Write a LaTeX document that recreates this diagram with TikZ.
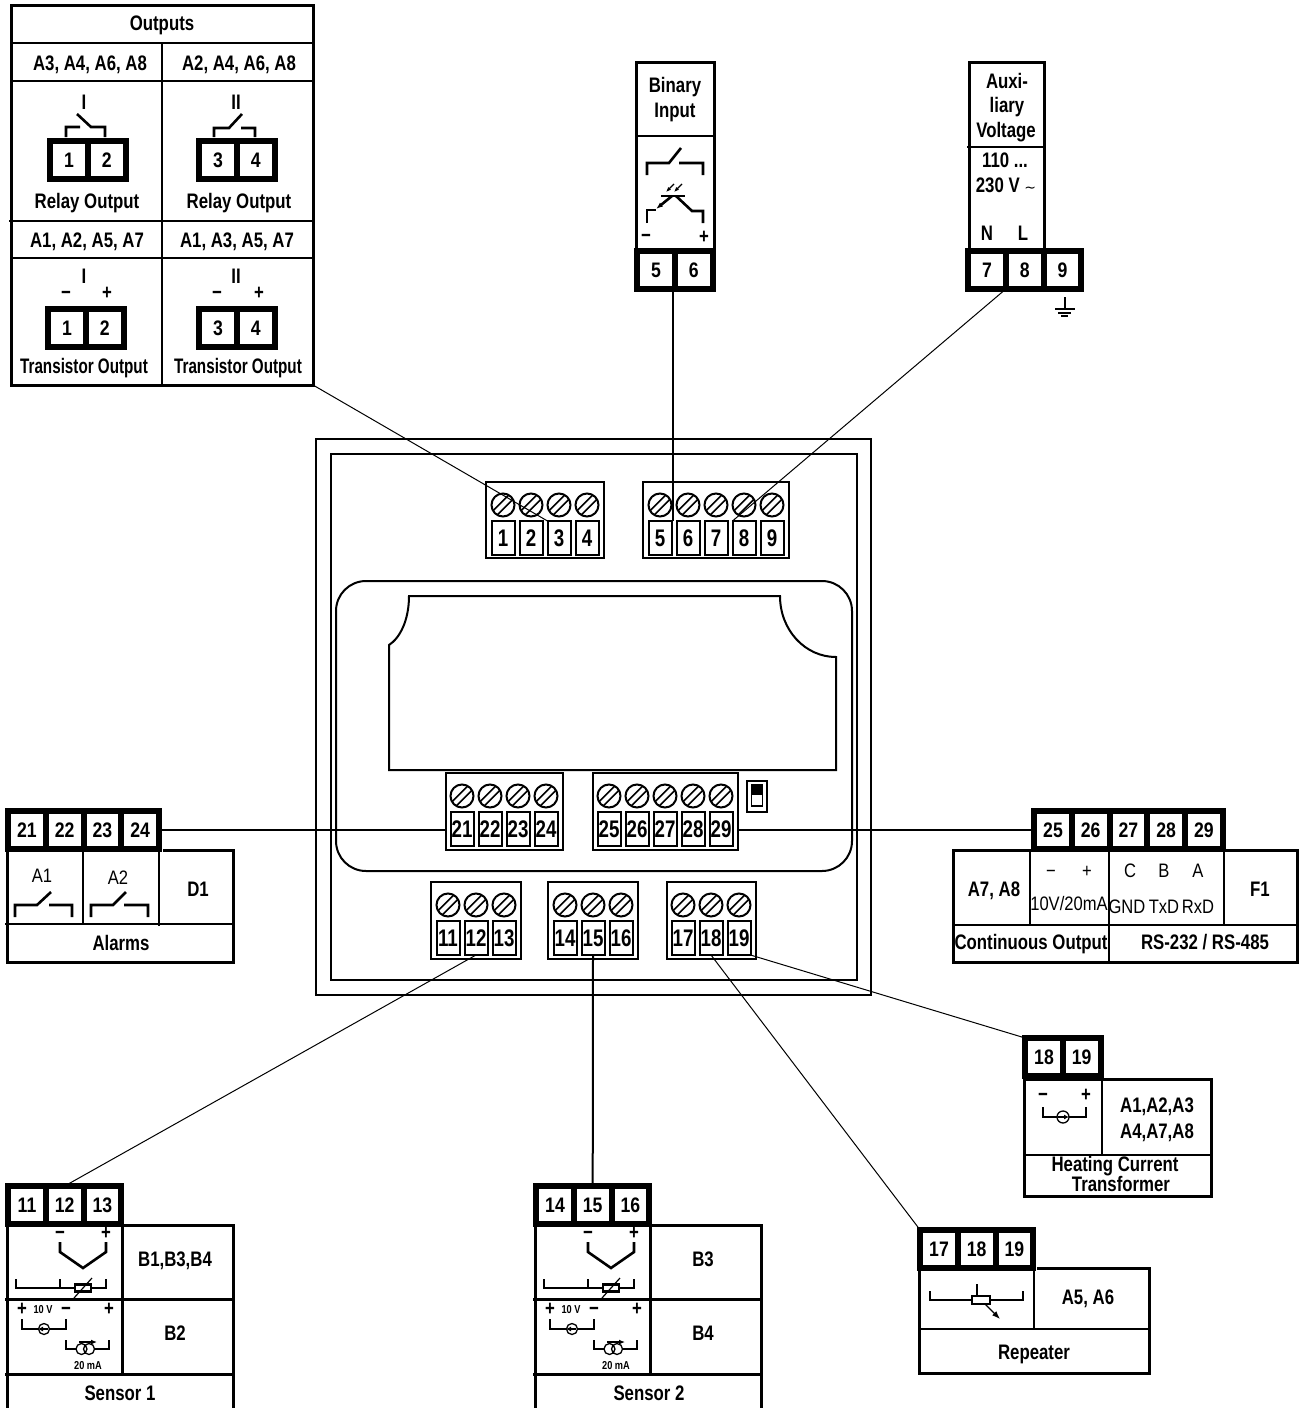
\documentclass[tikz,border=0pt]{standalone}
\usepackage{fontspec}
\usetikzlibrary{arrows.meta}
\setmainfont{Liberation Sans}
\newfontfamily\fnorm[FakeStretch=.8]{Liberation Sans Bold}
\newfontfamily\fnarrow[FakeStretch=.725]{Liberation Sans Bold}
\newfontfamily\flight[FakeStretch=.85]{Liberation Sans}
\newfontfamily\fdev[FakeStretch=.78]{Liberation Sans Bold}
\newfontfamily\fterm[FakeStretch=.84]{Liberation Sans Bold}
\newfontfamily\ftilde{DejaVu Sans}
\newcount\lc
\tikzset{
  x=1pt,y=-1pt,
  lbl/.style={inner sep=0pt,outer sep=0pt,text height=15pt,text depth=0pt,font=\fontsize{21}{24}\fnorm},
  lthin/.style={lbl,font=\fontsize{19.5}{24}\flight},
  lnarrow/.style={lbl,font=\fontsize{21}{24}\fnarrow},
  lsmall/.style={lbl,text height=8pt,font=\fontsize{11.5}{13}\fnorm},
  lsign/.style={lbl,text height=12pt,font=\fontsize{21}{21}\fnorm},
  tcell/.style={draw,line width=6pt,minimum width=37.7pt,minimum height=38pt,inner sep=0pt,outer sep=0pt,fill=white,text height=15pt,text depth=0pt,font=\fontsize{21}{22}\fterm},
  dcell/.style={draw,line width=2pt,minimum width=23pt,minimum height=34pt,inner sep=0pt,outer sep=0pt,fill=white,text height=17pt,text depth=0pt,font=\fontsize{24}{24}\fdev},
  sbox/.style={draw,line width=2pt,inner sep=0pt,outer sep=0pt,fill=white},
  tblbox/.style={draw,line width=3pt,inner sep=0pt,outer sep=0pt},
  tl/.style={line width=3pt},
  il/.style={line width=2.4pt},
  sym/.style={line width=2.6pt,line cap=butt},
  wire/.style={line width=1pt},
  wirethick/.style={line width=2pt},
  screwst/.style={line width=2pt}
}
\newcommand{\lab}[4][lbl]{\global\advance\lc by 1\relax\node[#1] (lab\the\lc) at (#2,#3) {#4};}
\newcommand{\termb}[4]{\foreach \t [count=\i from 0] in {#4} {
  \node[tcell] (#1\t) at ({#2+37.7*\i},#3) {\t};}}
\newcommand{\screw}[2]{\begin{scope}[shift={(#1,#2)}]
  \draw[screwst] (0,0) circle (11.5);
  \draw[line width=1.6pt] (-5.7,9.9) -- (9.9,-5.7) (-9.9,5.7) -- (5.7,-9.9);
\end{scope}}
\newcommand{\devstrip}[7]{
  \node[sbox,minimum width={#4-#2},minimum height={#5-#3}] (#1) at ({(#2+#4)/2},{(#3+#5)/2}) {};
  \foreach \t [count=\i from 0] in {#7} {
    \screw{#6+28*\i}{#3+23}
    \node[dcell] (dev\t) at ({#6+28*\i},{#3+56}) {\t};
  }}
\newcommand{\tblb}[5]{\node[tblbox,minimum width={#4-#2},minimum height={#5-#3}] (#1) at ({(#2+#4)/2},{(#3+#5)/2}) {};}
\newcommand{\contact}[8]{\draw[sym] (#1,#4) -- (#1,#3) -- (#5,#3) -- (#6,#7) (#8,#3) -- (#2,#3) -- (#2,#4);}
\newcommand{\sensor}[7]{\begin{scope}[shift={(#1,0)}]
  \draw[tl] (7,1408) -- (7,1225) -- (233,1225) -- (233,1408);
  \draw[tl] (5,1299) -- (233,1299) (5,1374) -- (233,1374) (122,1225) -- (122,1374);
  \termb{#6}{27}{1205}{#7}
  \lab[lsign]{60}{1233}{−}\lab[lsign]{106}{1233}{+}
  \draw[sym] (60,1242) -- (60,1252) -- (83,1268) -- (106,1252) -- (106,1242);
  \draw[sym] (16,1279) -- (16,1288) -- (75,1288) (91,1288) -- (106,1288) -- (106,1279) (60,1279) -- (60,1288);
  \draw[sym] (75,1284.5) rectangle (91,1291.5);
  \draw[line width=1.2pt] (74,1298) -- (92,1278);
  \lab[lsign]{22}{1309}{+}\lab[lsmall]{43}{1309}{10 V}\lab[lsign]{66}{1309}{−}\lab[lsign]{109}{1309}{+}
  \draw[sym] (22,1319) -- (22,1329) -- (66,1329) -- (66,1319);
  \draw[line width=1.3pt,fill=white] (44,1329) circle (5.5);
  \draw[line width=1.2pt,-{Latex[length=5pt,width=5pt]}] (48,1329) -- (38,1329);
  \draw[sym] (66,1340) -- (66,1349) -- (76,1349) (95,1349) -- (109,1349) -- (109,1340);
  \draw[line width=1.3pt] (81.5,1349) circle (5.5) (89,1349) circle (5.5);
  \draw[line width=1.3pt,-{Latex[length=6pt,width=5pt]}] (79,1342) -- (97,1342);
  \lab[lsmall]{88}{1365}{20 mA}
  \lab{175}{1259}{#2}\lab{175}{1333}{#3}\lab{#4}{1393}{#5}
\end{scope}}
\begin{document}
\begin{tikzpicture}
\useasboundingbox (0,0) rectangle (1302,1408);
\draw[line width=2pt] (316,439) rectangle (871,995);
\draw[line width=2pt] (331,454) rectangle (857,980);
\draw[line width=2pt,rounded corners=30pt] (336,581) rectangle (852,871);
\draw[line width=2pt] (409,596) -- (780,596) .. controls (780,630) and (805,657) .. (836,657) -- (836,770) -- (389,770) -- (389,645) .. controls (400,638) and (409,620) .. (409,596) -- cycle;
\devstrip{st1}{486}{482}{604}{558}{503}{1,2,3,4}
\devstrip{st5}{643}{482}{789}{558}{660}{5,6,7,8,9}
\devstrip{st21}{446}{773}{563}{850}{462}{21,22,23,24}
\devstrip{st25}{593}{773}{738}{850}{609}{25,26,27,28,29}
\devstrip{st11}{431}{882}{521}{959}{448}{11,12,13}
\devstrip{st14}{548}{882}{638}{959}{565}{14,15,16}
\devstrip{st17}{667}{882}{756}{959}{683}{17,18,19}
\draw[line width=2pt] (747,781) rectangle (767,812);
\draw[line width=1.2pt] (751.5,785) rectangle (762.5,806);
\fill (751.5,785) rectangle (762.5,795);
\tblb{outbox}{11}{5}{313}{385}
\draw[il] (11,43) -- (313,43) (11,81) -- (313,81) (9,221) -- (313,221) (11,258) -- (313,258) (162,43) -- (162,385);
\lab{162}{23}{Outputs}
\lab{90}{63}{A3, A4, A6, A8}\lab{239}{63}{A2, A4, A6, A8}
\lab{84}{102}{I}\lab{236}{102}{II}
\termb{ra}{69}{160}{1,2}\termb{rb}{218}{160}{3,4}
\draw[sym] (66,137) -- (66,127) -- (80,127) (77,114) -- (91,127) -- (105,127) -- (105,137);
\draw[sym] (214,137) -- (214,128) -- (229,128) -- (242,114) (241,128) -- (255,128) -- (255,137);
\lab{87}{201}{Relay Output}\lab{239}{201}{Relay Output}
\lab{87}{240}{A1, A2, A5, A7}\lab{237}{240}{A1, A3, A5, A7}
\lab{84}{276}{I}\lab{236}{276}{II}
\lab{66}{292}{−}\lab{107}{292}{+}\lab{217}{292}{−}\lab{259}{292}{+}
\termb{ta}{67}{328}{1,2}\termb{tb}{218}{328}{3,4}
\lab[lnarrow]{84}{366}{Transistor Output}\lab[lnarrow]{238}{366}{Transistor Output}
\draw[tl] (636,248) -- (636,62) -- (714,62) -- (714,248);
\draw[il] (636,136) -- (714,136);
\lab{675}{85}{Binary}\lab{675}{110}{Input}
\contact{647}{703}{163}{175}{669}{681}{148}{679}
\draw[sym] (647,223) -- (647,210) -- (656,210);
\draw[sym,-{Latex[length=7pt,width=5pt]}] (672,196) -- (656,209);
\draw[line width=2.5pt] (661,196) -- (685,196);
\draw[sym] (676,196) -- (692,211) -- (703,211) -- (703,223);
\draw[line width=1.2pt,-{Latex[length=5pt,width=4pt]}] (674,184) -- (666,192);
\draw[line width=1.2pt,-{Latex[length=5pt,width=4pt]}] (682,184) -- (674,192);
\lab[lsign]{646}{236}{−}\lab[lsign]{704}{237}{+}
\termb{bi}{656}{270}{5,6}
\draw[tl] (969,248) -- (969,62) -- (1044,62) -- (1044,248);
\draw[il] (967,147) -- (1044,147);
\lab{1007}{81}{Auxi-}\lab{1007}{105}{liary}\lab{1006}{130}{Voltage}
\lab{1005}{160}{110 ...}\lab{1006}{185}{230 V {\fontsize{14}{14}\ftilde∼}}
\lab{987}{233}{N}\lab{1023}{233}{L}
\termb{au}{987}{270}{7,8,9}
\draw[line width=1.4pt] (1065,297) -- (1065,309) (1055,309) -- (1075,309) (1058,313) -- (1071,313) (1061,316) -- (1068,316);
\termb{al}{27}{830}{21,22,23,24}
\draw[tl] (7,852) -- (7,962) -- (233,962) -- (233,850) -- (163,850);
\draw[il] (5,924) -- (233,924) (83,850) -- (83,924) (159,850) -- (159,926);
\lab[lthin]{42}{875}{A1}\lab[lthin]{118}{877}{A2}\lab{198}{889}{D1}\lab{121}{943}{Alarms}
\contact{15}{72}{905}{917}{37}{51}{892}{49}
\contact{91}{148}{905}{917}{113}{126}{892}{124}
\termb{rs}{1053}{830}{25,26,27,28,29}
\draw[tl] (1225,850) -- (1297,850) -- (1297,962) -- (953,962) -- (953,850) -- (1032,850);
\draw[il] (953,925) -- (1297,925) (1030,850) -- (1030,925) (1109,850) -- (1109,962) (1224,850) -- (1224,925);
\lab{994}{889}{A7, A8}\lab[lthin]{1051}{870}{−}\lab[lthin]{1087}{870}{+}
\lab[lthin]{1069}{903}{10V/20mA}
\lab[lthin]{1130}{870}{C}\lab[lthin]{1164}{870}{B}\lab[lthin]{1198}{870}{A}
\lab[lthin]{1127}{906}{GND}\lab[lthin]{1164}{906}{TxD}\lab[lthin]{1198}{906}{RxD}
\lab{1260}{889}{F1}
\lab{1031}{942}{Continuous Output}\lab{1205}{942}{RS-232 / RS-485}
\sensor{0}{B1,B3,B4}{B2}{120}{Sensor 1}{sa}{11,12,13}
\sensor{528}{B3}{B4}{121}{Sensor 2}{sb}{14,15,16}
\termb{ht}{1044}{1057}{18,19}
\draw[tl] (1024,1079) rectangle (1211,1196);
\draw[il] (1024,1155) -- (1211,1155) (1102,1079) -- (1102,1155);
\lab[lsign]{1043}{1095}{−}\lab[lsign]{1086}{1095}{+}
\draw[sym] (1043,1107) -- (1043,1117) -- (1086,1117) -- (1086,1107);
\draw[line width=1.3pt,fill=white] (1063,1117) circle (6);
\draw[line width=1.2pt,-{Latex[length=5pt,width=5pt]}] (1058,1117) -- (1069,1117);
\lab{1157}{1105}{A1,A2,A3}\lab{1157}{1131}{A4,A7,A8}
\lab{1115}{1164}{Heating Current}\lab{1121}{1184}{Transformer}
\termb{rp}{939}{1249}{17,18,19}
\draw[tl] (1037,1268) -- (1149,1268) -- (1149,1373) -- (919,1373) -- (919,1268);
\draw[il] (919,1329) -- (1149,1329) (1034,1268) -- (1034,1329);
\draw[sym] (930,1291) -- (930,1300) -- (972,1300) (990,1300) -- (1023,1300) -- (1023,1291) (977,1284) -- (977,1296);
\draw[sym] (972,1296) rectangle (990,1304);
\draw[line width=1.3pt,-{Latex[length=8pt,width=6pt]}] (985,1304) -- (1000,1319);
\lab{1088}{1297}{A5, A6}\lab{1034}{1352}{Repeater}
\draw[wire] (outbox.south east) -- (dev3.north west);
\draw[wirethick] ([xshift=1.5pt]dev5.north east) -- ([xshift=1.5pt]dev5.north east |- bi5.south);
\draw[wire] (au7.south east) -- (dev8.north west);
\draw[wirethick] (al24.east) -- (al24.east -| st21.west);
\draw[wirethick] (st25.east |- rs25.west) -- (rs25.west);
\draw[wire] (dev12.south) -- (sa12.north);
\draw[wirethick] (dev15.south) -- (sb15.north);
\draw[wire] (dev18.south) -- (rp17.north west);
\draw[wire] (dev19.south east) -- (ht18.north west);
\end{tikzpicture}
\end{document}
